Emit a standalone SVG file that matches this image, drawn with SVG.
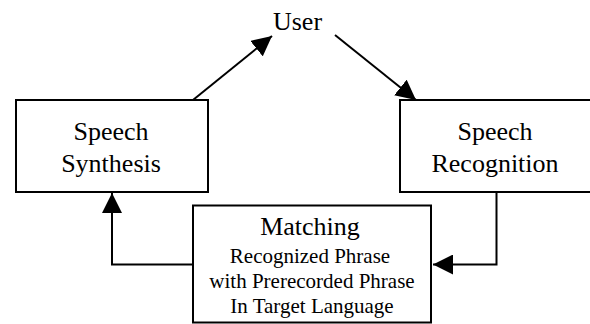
<svg xmlns="http://www.w3.org/2000/svg" width="590" height="324" viewBox="0 0 590 324">
<style>
.box{fill:#fff;stroke:#000;stroke-width:2}
.edge{fill:none;stroke:#000;stroke-width:2}
.big{font-size:26px}
.small{font-size:21px}
</style>
<defs>
<marker id="ah" viewBox="0 0 20 20" refX="20" refY="10" markerWidth="20" markerHeight="20" markerUnits="userSpaceOnUse" orient="auto">
<path d="M0,0 L20,10 L0,20 Z" fill="#000"/>
</marker>
</defs>
<rect width="590" height="324" fill="#fff"/>
<g id="connectors">
<path class="edge" d="M193,100 L272,36" marker-end="url(#ah)"/>
<path class="edge" d="M335,35 L416,100" marker-end="url(#ah)"/>
<path class="edge" d="M496.5,192 L496.5,264.5 L433,264.5" marker-end="url(#ah)"/>
<path class="edge" d="M193,264.5 L112,264.5 L112,193" marker-end="url(#ah)"/>
</g>
<g font-family="'Liberation Serif', 'Times New Roman', 'DejaVu Serif', serif" text-anchor="middle" fill="#000">
<g id="user">
<text class="big" x="297.5" y="30">User</text>
</g>
<g id="synthesis">
<rect class="box" x="16" y="100" width="192" height="92"/>
<text class="big" x="111" y="140">Speech</text>
<text class="big" x="111" y="171.5">Synthesis</text>
</g>
<g id="recognition">
<rect class="box" x="400" y="100" width="200" height="92"/>
<text class="big" x="495" y="140">Speech</text>
<text class="big" x="495" y="171.5">Recognition</text>
</g>
<g id="matching">
<rect class="box" x="193" y="205.5" width="238" height="117"/>
<text class="big" x="310" y="235">Matching</text>
<text class="small" x="310" y="263">Recognized Phrase</text>
<text class="small" x="312" y="288">with Prerecorded Phrase</text>
<text class="small" x="312" y="313">In Target Language</text>
</g>
</g>
</svg>
